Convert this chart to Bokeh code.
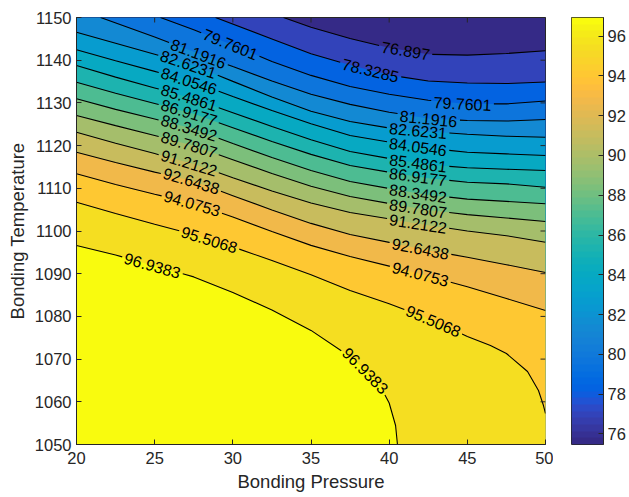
import numpy as np
from bokeh.plotting import figure
from bokeh.layouts import row
from bokeh.models import LinearColorMapper, Range1d, FixedTicker
from bokeh.core.properties import value
from bokeh.embed import file_html
from bokeh.resources import INLINE

# ---------------- data ----------------
LEVELS = [75.4655, 76.897, 78.3285, 79.7601, 81.1916, 82.6231, 84.0546, 85.4861,
          86.9177, 88.3492, 89.7807, 91.2122, 92.6438, 94.0753, 95.5068, 96.9383]
LEVEL_TEXT = ["75.4655", "76.897", "78.3285", "79.7601", "81.1916", "82.6231", "84.0546",
              "85.4861", "86.9177", "88.3492", "89.7807", "91.2122", "92.6438", "94.0753",
              "95.5068", "96.9383"]

GRID_P = [20, 22.5, 25, 27.5, 30, 32.5, 35, 37.5, 40, 42.5, 45, 47.5, 50]

# contour lines (levels 1..15): bonding pressure / bonding temperature points
LINE_P = [
    [33.24, 35, 37.5, 40, 42.5, 45, 47.5, 50],
    [28.89, 32.5, 35, 37.5, 40, 42.5, 45, 47.5, 50],
    [25.37, 27.5, 30, 32.5, 35, 37.5, 40, 42.5, 45, 47.5, 50],
    [21.54, 25, 27.5, 30, 32.5, 35, 37.5, 40, 42.5, 45, 47.5, 50],
    GRID_P, GRID_P, GRID_P, GRID_P, GRID_P, GRID_P, GRID_P, GRID_P, GRID_P,
    [20, 22.5, 25, 27.5, 30, 32.5, 35, 37.5, 40, 42.5, 45, 46.48, 47.5, 48.85, 49.55, 49.87, 50],
    [20, 22.5, 25, 27.5, 30, 32.5, 35, 37.5, 38.49, 39.45, 40, 40.41, 40.53],
]
LINE_T = [
    [1150, 1147.73, 1145.08, 1142.90, 1141.38, 1141.19, 1141.57, 1142.20],
    [1150, 1144.99, 1141.50, 1138.88, 1136.53, 1135.13, 1134.66, 1134.54, 1134.89],
    [1150, 1147.12, 1143.56, 1139.70, 1136.44, 1133.86, 1132.04, 1130.63, 1129.74, 1129.77, 1130.44],
    [1150, 1145.41, 1141.99, 1138.50, 1135.13, 1132.04, 1129.65, 1127.82, 1126.35, 1125.88, 1125.76, 1126.11],
    [1146.56, 1143.98, 1141.41, 1138.74, 1135.04, 1131.36, 1128.06, 1125.64, 1124.12, 1123.30, 1122.65, 1122.20, 1121.97],
    [1142.44, 1139.86, 1137.38, 1134.87, 1131.48, 1128.22, 1125.13, 1122.37, 1120.80, 1119.39, 1118.45, 1118.06, 1117.68],
    [1138.76, 1136.04, 1133.51, 1130.98, 1127.70, 1124.47, 1121.38, 1118.62, 1116.98, 1115.55, 1114.80, 1114.47, 1114.17],
    [1134.85, 1132.27, 1129.86, 1127.47, 1124.19, 1120.96, 1117.94, 1115.34, 1113.77, 1112.37, 1111.43, 1111.04, 1110.26],
    [1130.96, 1128.48, 1126.21, 1123.93, 1120.47, 1117.21, 1114.19, 1111.59, 1109.95, 1108.45, 1107.47, 1106.93, 1106.37],
    [1127.05, 1124.68, 1122.37, 1119.98, 1116.70, 1113.47, 1110.49, 1108.08, 1106.44, 1104.92, 1103.84, 1103.05, 1102.22],
    [1123.14, 1120.56, 1118.13, 1115.69, 1112.46, 1109.37, 1106.56, 1104.33, 1102.83, 1101.36, 1100.00, 1098.90, 1097.38],
    [1118.45, 1116.04, 1113.79, 1111.64, 1108.27, 1104.92, 1101.78, 1099.18, 1097.33, 1095.50, 1093.86, 1092.11, 1090.28],
    [1113.40, 1110.91, 1108.62, 1106.42, 1103.30, 1099.88, 1096.63, 1094.03, 1091.78, 1089.49, 1086.93, 1084.19, 1081.38],
    [1106.74, 1104.12, 1101.57, 1099.16, 1096.28, 1093.09, 1089.77, 1086.07, 1082.97, 1079.53, 1075.29, 1073.19, 1071.31, 1067.10, 1062.65, 1059.13, 1057.26],
    [1096.60, 1094.38, 1091.80, 1089.25, 1085.60, 1081.52, 1076.72, 1070.59, 1067.33, 1063.58, 1059.72, 1054.45, 1050],
]

# contour labels: level index and bonding pressure where the label sits
LABEL_LEVEL = [3, 4, 5, 6, 7, 8, 9, 10, 11, 12, 13, 14, 15,
               1, 2, 3, 4, 5, 6, 7, 8, 9, 10, 11, 12, 13, 14, 15]
LABEL_P = [29.85, 27.8, 27.16, 27.2, 27.2, 27.2, 27.2, 27.2, 27.2, 27.35, 27.4, 28.5, 24.86,
           41.05, 38.81, 44.69, 42.52, 41.85, 41.85, 41.85, 41.85, 41.85, 41.85, 41.85, 42.0, 42.0, 42.84, 38.49]

XTICKS = [20, 25, 30, 35, 40, 45, 50]
YTICKS = [1050, 1060, 1070, 1080, 1090, 1100, 1110, 1120, 1130, 1140, 1150]
CB_TICKS = [76, 78, 80, 82, 84, 86, 88, 90, 92, 94, 96]
X_RANGE = (20, 50)
Y_RANGE = (1050, 1150)

# ---------------- styling ----------------
PARULA = ["#352a87", "#363093", "#3637a0", "#353dad", "#3243ba", "#2c4ac7", "#2053d4", "#0f5cdd",
          "#0363e1", "#0268e1", "#046de0", "#0871de", "#0d75dc", "#1079da", "#127dd8", "#1481d6",
          "#1485d4", "#1389d3", "#108ed2", "#0c93d2", "#0998d1", "#079ccf", "#06a0cd", "#06a4ca",
          "#06a7c6", "#07a9c2", "#0aacbe", "#0faeb9", "#15b1b4", "#1db3af", "#25b5a9", "#2eb7a4",
          "#38b99e", "#42bb98", "#4dbc92", "#59bd8c", "#65be86", "#71bf80", "#7cbf7b", "#87bf77",
          "#92bf73", "#9cbf6f", "#a5be6b", "#aebe67", "#b7bd64", "#c0bc60", "#c8bc5d", "#d1bb59",
          "#d9ba56", "#e1b952", "#e9b94e", "#f1b94a", "#f8bb44", "#fdbe3d", "#ffc337", "#fec832",
          "#fcce2e", "#fad32a", "#f7d826", "#f5de21", "#f5e41d", "#f5eb18", "#f6f313", "#f9fb0e"]
FONT = "Liberation Sans"
TXT = "#262626"
FRAME_W, FRAME_H = 469, 427
SX = FRAME_W / (X_RANGE[1] - X_RANGE[0])
SY = FRAME_H / (Y_RANGE[1] - Y_RANGE[0])
LABEL_PX = 16

lo, hi = LEVELS[0], LEVELS[-1]
band_color = [PARULA[min(63, int((LEVELS[k] - lo) / (hi - lo) * 64 + 1e-9))] for k in range(len(LEVELS))]

p = figure(width=553, height=497, x_range=Range1d(*X_RANGE), y_range=Range1d(*Y_RANGE),
           output_backend="svg", toolbar_location=None,
           min_border_left=76, min_border_right=8, min_border_top=17, min_border_bottom=53)
p.grid.visible = False
p.background_fill_color = band_color[0]
p.border_fill_color = "white"
p.outline_line_color = TXT
p.outline_line_width = 1

# filled regions z >= level, painted from low to high level
for k in range(1, len(LEVELS)):
    xs = list(LINE_P[k - 1])
    ys = list(LINE_T[k - 1])
    if xs[-1] >= X_RANGE[1] - 1e-9:
        xs.append(X_RANGE[1]); ys.append(Y_RANGE[0])
    xs.append(X_RANGE[0]); ys.append(Y_RANGE[0])
    if ys[0] >= Y_RANGE[1] - 1e-9:
        xs.append(X_RANGE[0]); ys.append(Y_RANGE[1])
    p.patch(xs, ys, fill_color=band_color[k], line_color=None)


def to_px(P, T):
    return (np.asarray(P, float) - X_RANGE[0]) * SX, (Y_RANGE[1] - np.asarray(T, float)) * SY


def to_data(x, y):
    return X_RANGE[0] + np.asarray(x) / SX, Y_RANGE[1] - np.asarray(y) / SY


def text_w(s):
    return LABEL_PX * sum(0.278 if c == "." else 0.556 for c in s)


gaps = {k: [] for k in range(1, len(LEVELS))}
lab_x, lab_y, lab_a, lab_t = [], [], [], []
for lev, lp in zip(LABEL_LEVEL, LABEL_P):
    px, py = to_px(LINE_P[lev - 1], LINE_T[lev - 1])
    s = np.concatenate([[0.0], np.cumsum(np.hypot(np.diff(px), np.diff(py)))])
    xq = (lp - X_RANGE[0]) * SX
    i = int(np.clip(np.searchsorted(px, xq) - 1, 0, len(px) - 2))
    t = (xq - px[i]) / (px[i + 1] - px[i])
    yq = py[i] + t * (py[i + 1] - py[i])
    sq = s[i] + t * (s[i + 1] - s[i])
    hw = text_w(LEVEL_TEXT[lev]) / 2 + 2.5
    x1, y1 = np.interp(sq - hw, s, px), np.interp(sq - hw, s, py)
    x2, y2 = np.interp(sq + hw, s, px), np.interp(sq + hw, s, py)
    ang = -np.arctan2(y2 - y1, x2 - x1)
    gaps[lev].append((sq - hw, sq + hw))
    dx, dy = to_data(xq, yq)
    lab_x.append(float(dx)); lab_y.append(float(dy)); lab_a.append(float(ang)); lab_t.append(LEVEL_TEXT[lev])

seg_xs, seg_ys = [], []
for lev in range(1, len(LEVELS)):
    px, py = to_px(LINE_P[lev - 1], LINE_T[lev - 1])
    s = np.concatenate([[0.0], np.cumsum(np.hypot(np.diff(px), np.diff(py)))])
    keep = [(0.0, s[-1])]
    for a, b in gaps[lev]:
        new = []
        for u, v in keep:
            if b <= u or a >= v:
                new.append((u, v)); continue
            if a > u:
                new.append((u, a))
            if b < v:
                new.append((b, v))
        keep = new
    for u, v in keep:
        idx = [j for j in range(len(s)) if u < s[j] < v]
        xx = [np.interp(u, s, px)] + [px[j] for j in idx] + [np.interp(v, s, px)]
        yy = [np.interp(u, s, py)] + [py[j] for j in idx] + [np.interp(v, s, py)]
        dx, dy = to_data(xx, yy)
        seg_xs.append(list(dx)); seg_ys.append(list(dy))

p.multi_line(seg_xs, seg_ys, line_color="black", line_width=1.1)
p.text(x=lab_x, y=lab_y, text=lab_t, angle=lab_a, text_align="center", text_baseline="middle",
       text_font=value(FONT), text_font_size=value(f"{LABEL_PX}px"), text_color="black")

# mirrored ticks on top and right edges
tick_len = 5
p.segment(x0=XTICKS, x1=XTICKS, y0=[Y_RANGE[1]] * len(XTICKS),
          y1=[Y_RANGE[1] - tick_len / SY] * len(XTICKS), line_color=TXT, line_width=1)
p.segment(x0=[X_RANGE[1]] * len(YTICKS), x1=[X_RANGE[1] - tick_len / SX] * len(YTICKS),
          y0=YTICKS, y1=YTICKS, line_color=TXT, line_width=1)

for ax in (p.xaxis[0], p.yaxis[0]):
    ax.major_tick_in = tick_len
    ax.major_tick_out = 0
    ax.minor_tick_line_color = None
    ax.axis_line_color = TXT
    ax.major_tick_line_color = TXT
    ax.major_label_text_font = FONT
    ax.major_label_text_font_size = "16.5px"
    ax.major_label_text_color = TXT
    ax.axis_label_text_font = FONT
    ax.axis_label_text_font_size = "18.5px"
    ax.axis_label_text_font_style = "normal"
    ax.axis_label_text_color = TXT
p.xaxis.ticker = FixedTicker(ticks=XTICKS)
p.yaxis.ticker = FixedTicker(ticks=YTICKS)
p.xaxis.axis_label = "Bonding Pressure"
p.yaxis.axis_label = "Bonding Temperature"
p.xaxis.major_label_standoff = 7
p.xaxis.axis_label_standoff = 4
p.yaxis.major_label_standoff = 5
p.yaxis.axis_label_standoff = 4

# colour bar as its own small figure
mapper = LinearColorMapper(palette=PARULA, low=lo, high=hi)
cb = figure(width=76, height=497, x_range=Range1d(0, 1), y_range=Range1d(lo, hi),
            output_backend="svg", toolbar_location=None, y_axis_location="right",
            min_border_left=18, min_border_right=26, min_border_top=17, min_border_bottom=53)
cb.grid.visible = False
cb.xaxis.visible = False
cb.image(image=[np.linspace(lo, hi, 256).reshape(256, 1)], x=0, y=lo, dw=1, dh=hi - lo,
         color_mapper=mapper)
cb.outline_line_color = TXT
cb.yaxis.ticker = FixedTicker(ticks=CB_TICKS)
cb.yaxis.major_tick_in = tick_len
cb.yaxis.major_tick_out = 0
cb.yaxis.minor_tick_line_color = None
cb.yaxis.axis_line_color = TXT
cb.yaxis.major_tick_line_color = TXT
cb.yaxis.major_label_text_font = FONT
cb.yaxis.major_label_text_font_size = "16.5px"
cb.yaxis.major_label_text_color = TXT
cb.yaxis.major_label_standoff = 4

layout = row(p, cb, spacing=0)
open("out.html", "w").write(file_html(layout, INLINE))
